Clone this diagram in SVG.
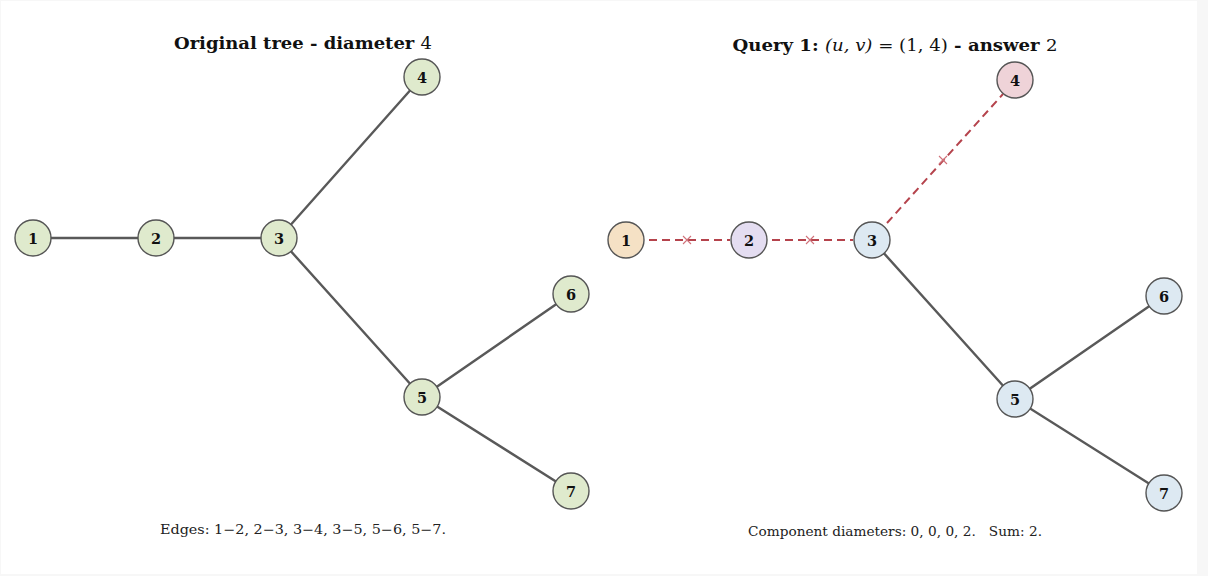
<svg xmlns="http://www.w3.org/2000/svg" width="1208" height="576" viewBox="0 0 1208 576">
<style>
.bg{fill:#f7f7f7}
.panel{fill:#ffffff}
.edge{stroke:#595959;stroke-width:2.4;fill:none;stroke-linecap:round}
.cut{stroke:#b5434c;stroke-width:2;fill:none;stroke-dasharray:8 5}
.x{stroke:#d0727a;stroke-width:1.1;fill:none}
.node{stroke:#555555;stroke-width:1.4}
.g{fill:#dfeacd}
.peach{fill:#f5e1c5}
.lav{fill:#e4ddf1}
.blue{fill:#dde9f2}
.pink{fill:#efd3d8}
.lbl{font-family:"DejaVu Serif",serif;font-weight:bold;font-size:14.5px;fill:#111;text-anchor:middle;dominant-baseline:central}
.title{font-family:"DejaVu Serif",serif;font-weight:bold;font-size:16px;fill:#111;text-anchor:middle}
.math{font-weight:normal}
.cap{font-family:"DejaVu Serif",serif;font-size:12.5px;fill:#222;text-anchor:middle}
</style>
<rect class="bg" x="0" y="0" width="1208" height="576"/>
<rect class="panel" x="1" y="1" width="1196" height="573"/>

<text class="title" x="303" y="49" textLength="258" lengthAdjust="spacingAndGlyphs">Original tree - diameter <tspan class="math">4</tspan></text>
<text class="title" x="895" y="51" textLength="325" lengthAdjust="spacingAndGlyphs">Query 1: <tspan class="math" font-style="italic">(u, v)</tspan><tspan class="math"> = (1, 4)</tspan> - answer <tspan class="math">2</tspan></text>

<g id="connectors">
<line class="edge" x1="33" y1="238" x2="156" y2="238"/>
<line class="edge" x1="156" y1="238" x2="279" y2="238"/>
<line class="edge" x1="279" y1="238" x2="422" y2="77"/>
<line class="edge" x1="279" y1="238" x2="422" y2="397"/>
<line class="edge" x1="422" y1="397" x2="571" y2="294"/>
<line class="edge" x1="422" y1="397" x2="571" y2="491"/>

<line class="cut" x1="649" y1="240" x2="730" y2="240"/>
<line class="cut" x1="772" y1="240" x2="853" y2="240"/>
<line class="cut" x1="887" y1="223" x2="1003" y2="94"/>
<line class="edge" x1="872" y1="240" x2="1015" y2="399"/>
<line class="edge" x1="1015" y1="399" x2="1164" y2="296"/>
<line class="edge" x1="1015" y1="399" x2="1164" y2="493"/>

<path class="x" d="M683 236l8 8M691 236l-8 8"/>
<path class="x" d="M806 236l8 8M814 236l-8 8"/>
<path class="x" d="M939 156l8 8M947 156l-8 8"/>
</g>

<g id="n1"><circle class="node g" cx="33" cy="238" r="18"/><text class="lbl" x="33" y="238">1</text></g>
<g id="n2"><circle class="node g" cx="156" cy="238" r="18"/><text class="lbl" x="156" y="238">2</text></g>
<g id="n3"><circle class="node g" cx="279" cy="238" r="18"/><text class="lbl" x="279" y="238">3</text></g>
<g id="n4"><circle class="node g" cx="422" cy="77" r="18"/><text class="lbl" x="422" y="77">4</text></g>
<g id="n5"><circle class="node g" cx="422" cy="397" r="18"/><text class="lbl" x="422" y="397">5</text></g>
<g id="n6"><circle class="node g" cx="571" cy="294" r="18"/><text class="lbl" x="571" y="294">6</text></g>
<g id="n7"><circle class="node g" cx="571" cy="491" r="18"/><text class="lbl" x="571" y="491">7</text></g>

<g id="q1"><circle class="node peach" cx="626" cy="240" r="18"/><text class="lbl" x="626" y="240">1</text></g>
<g id="q2"><circle class="node lav" cx="749" cy="240" r="18"/><text class="lbl" x="749" y="240">2</text></g>
<g id="q3"><circle class="node blue" cx="872" cy="240" r="18"/><text class="lbl" x="872" y="240">3</text></g>
<g id="q4"><circle class="node pink" cx="1015" cy="80" r="18"/><text class="lbl" x="1015" y="80">4</text></g>
<g id="q5"><circle class="node blue" cx="1015" cy="399" r="18"/><text class="lbl" x="1015" y="399">5</text></g>
<g id="q6"><circle class="node blue" cx="1164" cy="296" r="18"/><text class="lbl" x="1164" y="296">6</text></g>
<g id="q7"><circle class="node blue" cx="1164" cy="493" r="18"/><text class="lbl" x="1164" y="493">7</text></g>

<text class="cap" x="303" y="534" textLength="286" lengthAdjust="spacingAndGlyphs">Edges: 1−2, 2−3, 3−4, 3−5, 5−6, 5−7.</text>
<text class="cap" x="895" y="536" xml:space="preserve" textLength="294" lengthAdjust="spacingAndGlyphs">Component diameters: 0, 0, 0, 2.   Sum: 2.</text>
</svg>
